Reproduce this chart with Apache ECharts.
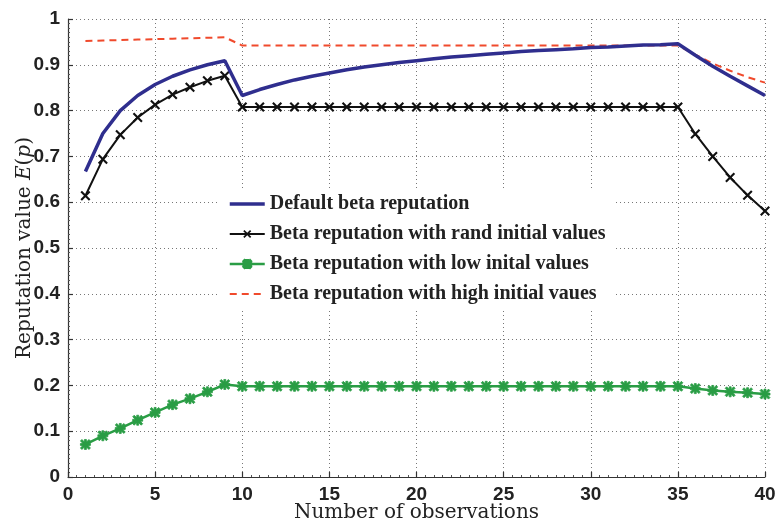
<!DOCTYPE html>
<html>
<head>
<meta charset="utf-8">
<script src="https://cdn.jsdelivr.net/npm/echarts@6/dist/echarts.min.js"></script>
<style>
	html, body { margin: 0; padding: 0; background: #fff; }
	#chart { width: 776px; height: 521px; }
</style>
</head>
<body>
<div id="chart"></div>
<script>
	// observations 1..40
	var observations = [];
	for(var i = 1; i <= 40; i++)
		observations.push(i);

	var defaultBeta = [
		0.667, 0.750, 0.800, 0.833, 0.857, 0.875, 0.889, 0.900, 0.909, 0.833,
		0.846, 0.857, 0.867, 0.875, 0.882, 0.889, 0.895, 0.900, 0.905, 0.909,
		0.913, 0.917, 0.920, 0.923, 0.926, 0.929, 0.931, 0.933, 0.935, 0.938,
		0.939, 0.941, 0.943, 0.944, 0.946, 0.921, 0.897, 0.875, 0.854, 0.833
	];
	var randInit = [
		0.614, 0.694, 0.747, 0.785, 0.813, 0.835, 0.851, 0.865, 0.876, 0.808,
		0.808, 0.808, 0.808, 0.808, 0.808, 0.808, 0.808, 0.808, 0.808, 0.808,
		0.808, 0.808, 0.808, 0.808, 0.808, 0.808, 0.808, 0.808, 0.808, 0.808,
		0.808, 0.808, 0.808, 0.808, 0.808, 0.749, 0.700, 0.654, 0.615, 0.581
	];
	var lowInit = [
		0.071, 0.090, 0.106, 0.124, 0.141, 0.158, 0.171, 0.186, 0.202, 0.198,
		0.198, 0.198, 0.198, 0.198, 0.198, 0.198, 0.198, 0.198, 0.198, 0.198,
		0.198, 0.198, 0.198, 0.198, 0.198, 0.198, 0.198, 0.198, 0.198, 0.198,
		0.198, 0.198, 0.198, 0.198, 0.198, 0.193, 0.189, 0.186, 0.184, 0.181
	];
	var highInit = [
		0.952, 0.953, 0.954, 0.955, 0.956, 0.957, 0.958, 0.959, 0.960, 0.942,
		0.942, 0.942, 0.942, 0.942, 0.942, 0.942, 0.942, 0.942, 0.942, 0.942,
		0.942, 0.942, 0.942, 0.942, 0.942, 0.942, 0.942, 0.942, 0.942, 0.942,
		0.942, 0.942, 0.942, 0.942, 0.942, 0.922, 0.903, 0.887, 0.873, 0.861
	];
	var seriesNames = [
		'Default beta reputation',
		'Beta reputation with rand initial values',
		'Beta reputation with low inital values',
		'Beta reputation with high initial vaues'
	];

	var crossPath = 'path://M0,1.5 L1.5,0 L5,3.5 L8.5,0 L10,1.5 L6.5,5 L10,8.5 L8.5,10 L5,6.5 L1.5,10 L0,8.5 L3.5,5 Z';
	var starPath = 'path://M4,0 L6,0 L6,10 L4,10 Z M0,4 L10,4 L10,6 L0,6 Z ' +
		'M0,1.5 L1.5,0 L5,3.5 L8.5,0 L10,1.5 L6.5,5 L10,8.5 L8.5,10 L5,6.5 L1.5,10 L0,8.5 L3.5,5 Z';

	function pairs(values){
		var out = [];
		for(var i = 0; i < values.length; i++)
			out.push([observations[i], values[i]]);
		return out;
	}

	function extend(base, more){
		var out = {};
		for(var k in base) out[k] = base[k];
		for(var k2 in more) out[k2] = more[k2];
		return out;
	}

	var tickFont = { fontFamily: 'Liberation Sans', fontWeight: 'bold', fontSize: 19, color: '#222' };
	var axisLineStyle = { color: '#333', width: 1.2 };
	var gridStyle = { type: [1, 3], color: '#777', width: 1 };
	var titleFont = { fontFamily: 'DejaVu Serif', fontSize: 20, color: '#222' };

	var chart = echarts.init(document.getElementById('chart'), null, { renderer: 'canvas' });

	chart.setOption({
		animation: false,
		backgroundColor: '#fff',
		grid: {
			left: 68,
			right: 11,
			top: 19,
			bottom: 44,
			containLabel: false,
			outerBoundsMode: 'none'
		},
		legend: {
			orient: 'vertical',
			left: 220,
			top: 188,
			padding: [6, 8, 6, 8],
			backgroundColor: '#fff',
			itemWidth: 35,
			itemHeight: 10,
			itemGap: 10,
			textStyle: {
				fontFamily: 'Liberation Serif',
				fontWeight: 'bold',
				fontSize: 20,
				color: '#222'
			},
			data: [
				{ name: seriesNames[0], itemStyle: { opacity: 0 }, lineStyle: { width: 3.5 } },
				{ name: seriesNames[1], lineStyle: { width: 2 } },
				{ name: seriesNames[2], lineStyle: { width: 2.5 } },
				{ name: seriesNames[3], itemStyle: { opacity: 0 }, lineStyle: { width: 2 } }
			]
		},
		xAxis: {
			type: 'value',
			min: 0,
			max: 40,
			interval: 5,
			name: 'Number of observations',
			nameLocation: 'middle',
			nameGap: 26,
			nameMoveOverlap: false,
			nameTextStyle: titleFont,
			axisLine: { show: true, lineStyle: axisLineStyle },
			axisTick: { show: true, inside: true, length: 5, lineStyle: axisLineStyle },
			minorTick: { show: true, splitNumber: 10, length: 2, lineStyle: { color: '#555', width: 1 } },
			axisLabel: extend(tickFont, { margin: 8 }),
			splitLine: { show: true, lineStyle: gridStyle }
		},
		yAxis: {
			type: 'value',
			min: 0,
			max: 1,
			interval: 0.1,
			name: '{a|Reputation value }{b|E}{a|(}{b|p}{a|)}',
			nameLocation: 'middle',
			nameGap: 33,
			nameMoveOverlap: false,
			nameTextStyle: {
				rich: {
					a: titleFont,
					b: extend(titleFont, { fontStyle: 'italic' })
				}
			},
			axisLine: { show: true, lineStyle: axisLineStyle },
			axisTick: { show: true, inside: true, length: 5, lineStyle: axisLineStyle },
			minorTick: { show: true, splitNumber: 10, length: 2, lineStyle: { color: '#555', width: 1 } },
			axisLabel: extend(tickFont, {
				margin: 8,
				formatter: function(value){
					if(value === 0 || value === 1)
						return String(value);
					return value.toFixed(1);
				}
			}),
			splitLine: { show: true, lineStyle: gridStyle }
		},
		series: [
			{
				name: seriesNames[0],
				type: 'line',
				data: pairs(defaultBeta),
				showSymbol: false,
				symbol: 'none',
				lineStyle: { color: '#2f2e8e', width: 3.5 },
				itemStyle: { color: '#2f2e8e' },
				z: 4
			},
			{
				name: seriesNames[1],
				type: 'line',
				data: pairs(randInit),
				symbol: crossPath,
				symbolSize: 10,
				lineStyle: { color: '#111', width: 2 },
				itemStyle: { color: '#111' },
				z: 3
			},
			{
				name: seriesNames[2],
				type: 'line',
				data: pairs(lowInit),
				symbol: starPath,
				symbolSize: 10,
				lineStyle: { color: '#2a9d45', width: 2.5 },
				itemStyle: { color: '#2a9d45', borderColor: '#2a9d45', borderWidth: 0.8 },
				z: 3
			},
			{
				name: seriesNames[3],
				type: 'line',
				data: pairs(highInit),
				symbol: 'none',
				lineStyle: { color: '#f04a2c', width: 2, type: [7, 5] },
				itemStyle: { color: '#f04a2c' },
				z: 2
			}
		]
	});
</script>
</body>
</html>
